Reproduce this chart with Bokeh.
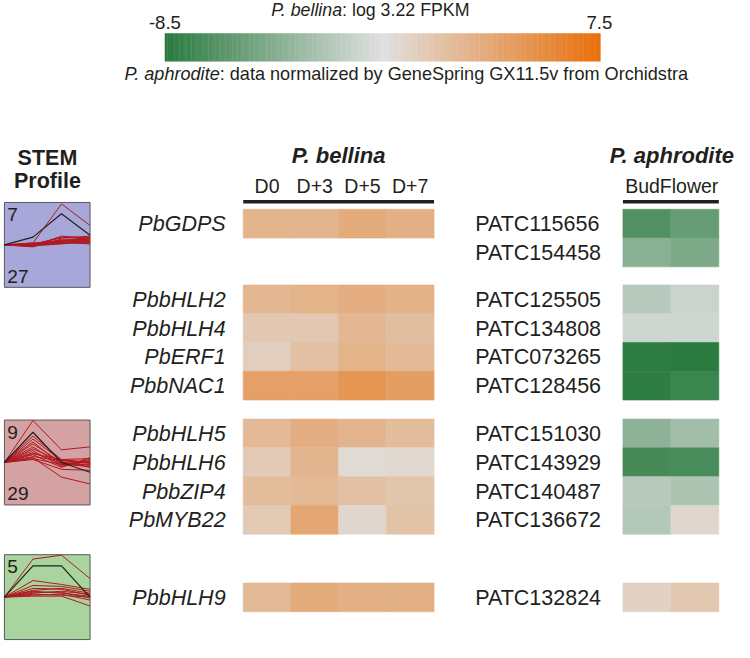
import numpy as np
from bokeh.plotting import figure
from bokeh.models import Range1d, LinearColorMapper, ColumnDataSource
from bokeh.transform import transform
from bokeh.core.properties import value
from bokeh.embed import file_html
from bokeh.resources import INLINE

# ---------------- data ----------------
scale_low, scale_high = -8.5, 7.5

bellina_conditions = ["D0", "D+3", "D+5", "D+7"]
bellina_genes = ["PbGDPS", "PbbHLH2", "PbbHLH4", "PbERF1", "PbbNAC1",
                 "PbbHLH5", "PbbHLH6", "PbbZIP4", "PbMYB22", "PbbHLH9"]
bellina_groups = [0, 1, 1, 1, 1, 2, 2, 2, 2, 3]
bellina_values = [
    [2.6, 2.5, 3.3, 2.9],
    [2.4, 2.7, 3.0, 2.8],
    [1.2, 1.2, 2.4, 1.9],
    [0.8, 1.8, 2.7, 2.2],
    [4.0, 4.0, 4.8, 4.2],
    [2.3, 3.0, 2.5, 2.1],
    [1.0, 2.5, -0.1, 0.1],
    [2.0, 2.3, 1.8, 1.4],
    [1.1, 3.5, 0.2, 1.6],
    [2.2, 3.3, 2.9, 2.9],
]

aph_conditions = ["Bud", "Flower"]
aph_genes = ["PATC115656", "PATC154458", "PATC125505", "PATC134808",
             "PATC073265", "PATC128456", "PATC151030", "PATC143929",
             "PATC140487", "PATC136672", "PATC132824"]
aph_groups = [0, 0, 1, 1, 1, 1, 2, 2, 2, 2, 3]
aph_values = [
    [-6.8, -5.8],
    [-4.3, -4.8],
    [-2.3, -1.5],
    [-1.3, -1.3],
    [-8.3, -8.5],
    [-8.3, -7.7],
    [-4.1, -3.2],
    [-7.3, -7.1],
    [-2.3, -2.7],
    [-2.4, 0.2],
    [0.5, 1.3],
]

stem_ids = ["7", "9", "5"]
stem_counts = ["27", "29", ""]
stem_colors = ["#a7a7d9", "#d5a2a3", "#a9d49d"]
stem_model = [
    [0, 0.8, 3.2, 1.0],
    [0, 3.1, 0.0, -1.0],
    [0, 3.2, 3.2, 0.0],
]
stem_genes = [
    [[0, 0.2, 4.2, 2.0], [0, -0.1, 0.9, 0.7], [0, 0.0, 0.8, 0.6], [0, 0.1, 0.7, 0.9],
     [0, -0.2, 0.6, 0.5], [0, 0.1, 0.5, 0.4], [0, 0.0, 0.4, 0.8], [0, -0.1, 0.3, 0.3],
     [0, 0.2, 0.35, 0.6], [0, 0.0, 0.2, 0.2], [0, -0.1, 0.1, 0.4], [0, 0.05, 0.25, 0.1],
     [0, 0.0, 0.15, 0.5], [0, -0.15, 0.45, 0.2]],
    [[0, 4.3, 1.3, 1.6], [0, 2.7, 0.3, 0.4], [0, 2.4, 0.2, 0.0], [0, 2.1, -0.2, 0.3],
     [0, 1.9, 0.0, -0.3], [0, 1.6, -0.3, 0.1], [0, 1.4, 0.1, -0.5], [0, 1.2, -0.4, 0.2],
     [0, 1.0, -0.1, -0.2], [0, 0.8, -0.5, 0.5], [0, 0.6, 0.2, -0.1], [0, 0.5, -1.5, -2.2],
     [0, 0.4, -0.2, -0.4], [0, 0.3, -0.7, -0.8], [0, 0.9, 0.3, 0.0]],
    [[0, 3.9, 4.3, 1.9], [0, 1.7, 1.3, 0.8], [0, 1.2, 1.1, 0.6], [0, 0.9, 0.8, 0.2],
     [0, 0.7, 0.9, 0.4], [0, 0.5, 0.5, -0.1], [0, 0.4, 0.6, 0.3], [0, 0.3, 0.2, 0.0],
     [0, 0.2, 0.3, -0.3], [0, 0.1, 0.1, -0.9], [0, 0.6, 0.4, 0.1]],
]

# ---------------- styling / layout ----------------
W, H = 750, 658
FS = 0.977
INK = "#231f20"
FONT = "Liberation Sans"
RED = "#b0181e"


def make_palette(n=256):
    stops = [(0.0, (42, 123, 63)), (0.5, (224, 224, 224)), (1.0, (232, 112, 11))]
    cols = []
    for t in np.linspace(0, 1, n):
        for (t0, c0), (t1, c1) in zip(stops[:-1], stops[1:]):
            if t0 <= t <= t1:
                f = (t - t0) / (t1 - t0)
                c = [int(round(a + (b - a) * f)) for a, b in zip(c0, c1)]
                cols.append("#%02x%02x%02x" % tuple(c))
                break
    return cols


mapper = LinearColorMapper(palette=make_palette(), low=scale_low, high=scale_high)

p = figure(width=734, height=642, x_range=Range1d(0, W), y_range=Range1d(H, 0),
           output_backend="svg", toolbar_location=None, min_border=0,
           x_axis_type=None, y_axis_type=None)
p.grid.visible = False
p.outline_line_color = None
p.background_fill_color = "white"
p.border_fill_color = "white"


def txt(x, y, s, size, style="normal", align="left", color=INK):
    p.text(x=[x], y=[y], text=[s], text_font=value(FONT),
           text_font_size=f"{size * FS:.1f}px", text_font_style=style,
           text_align=align, text_baseline="middle", text_color=color)


# ---- colour bar ----
cb_x0, cb_x1, cb_y0, cb_y1 = 168, 613, 33.5, 62.5
n = 180
vals = np.linspace(scale_low, scale_high, n)
edges = np.linspace(cb_x0, cb_x1, n + 1)
src = ColumnDataSource(dict(x=(edges[:-1] + edges[1:]) / 2, y=[(cb_y0 + cb_y1) / 2] * n,
                            w=[(cb_x1 - cb_x0) / n + 0.4] * n, v=vals))
p.rect(x="x", y="y", width="w", height=cb_y1 - cb_y0, source=src,
       fill_color=transform("v", mapper), line_color=None)
txt(cb_x0, 23, f"{scale_low}", 19, align="center")
txt(cb_x1 - 1, 23, f"{scale_high}", 19, align="center")
txt(349, 10, "P. bellina", 18.2, style="italic", align="right")
txt(349, 10, ": log 3.22 FPKM", 18.2)
txt(224, 75.5, "P. aphrodite", 18.5, style="italic", align="right")
txt(224, 75.5, ": data normalized by GeneSpring GX11.5v from Orchidstra", 18.5)

# ---- heatmaps ----
group_tops = [214, 291.5, 429, 597]
rh = 29.5


def heat(genes, groups, values, x0, cw):
    xs, ys, vs = [], [], []
    counts = {}
    centers = []
    for g, grp, row in zip(genes, groups, values):
        k = counts.get(grp, 0)
        counts[grp] = k + 1
        yc = group_tops[grp] + (k + 0.5) * rh
        centers.append(yc)
        for j, v in enumerate(row):
            xs.append(x0 + (j + 0.5) * cw)
            ys.append(yc)
            vs.append(v)
    s = ColumnDataSource(dict(x=xs, y=ys, v=vs))
    p.rect(x="x", y="y", width=cw, height=rh, source=s,
           fill_color=transform("v", mapper), line_color=transform("v", mapper),
           line_width=0.6)
    return centers


bx0, bx1 = 248, 443
bcw = (bx1 - bx0) / len(bellina_conditions)
bc = heat(bellina_genes, bellina_groups, bellina_values, bx0, bcw)
for g, yc in zip(bellina_genes, bc):
    txt(230, yc + 0.5, g, 22, style="italic", align="right")

ax0, ax1 = 636, 734
acw = (ax1 - ax0) / len(aph_conditions)
ac = heat(aph_genes, aph_groups, aph_values, ax0, acw)
for g, yc in zip(aph_genes, ac):
    txt(485, yc + 0.5, g, 22)

# headers
txt((bx0 + bx1) / 2, 158.5, "P. bellina", 22.5, style="bold italic", align="center")
for j, c in enumerate(bellina_conditions):
    txt(bx0 + (j + 0.5) * bcw, 190, c, 20, align="center")
p.quad(left=[bx0, ax0], right=[bx1, ax1], top=[204.5, 204.5], bottom=[208, 208],
       fill_color=INK, line_color=None)
txt(686, 158.5, "P. aphrodite", 22.5, style="bold italic", align="center")
txt(ax0 + acw * 0.77, 190, aph_conditions[0], 20, align="right")
txt(ax0 + acw * 0.77, 190, aph_conditions[1], 20, align="left")

# ---- STEM profiles ----
txt(48, 161.5, "STEM", 22, style="bold", align="center")
txt(48, 185.5, "Profile", 22, style="bold", align="center")
box_x0, box_x1, box_h = 4, 91.5, 87
box_tops = [207, 430, 568]
ppu = 10.0
tx = [box_x0 + k * (box_x1 - box_x0) / 3 for k in range(4)]
for i in range(3):
    top = box_tops[i]
    base = top + box_h / 2
    p.quad(left=[box_x0], right=[box_x1], top=[top], bottom=[top + box_h],
           fill_color=stem_colors[i], line_color="#58595b", line_width=1)
    xs = [tx for _ in stem_genes[i]]
    ys = [[base - v * ppu for v in line] for line in stem_genes[i]]
    p.multi_line(xs=xs, ys=ys, line_color=RED, line_width=1)
    p.line(x=tx, y=[base - v * ppu for v in stem_model[i]], line_color=INK, line_width=1.2)
    txt(7, top + 12.5, stem_ids[i], 19.5)
    if stem_counts[i]:
        txt(7, top + 75.5, stem_counts[i], 19.5)

open("out.html", "w").write(file_html(p, INLINE))
